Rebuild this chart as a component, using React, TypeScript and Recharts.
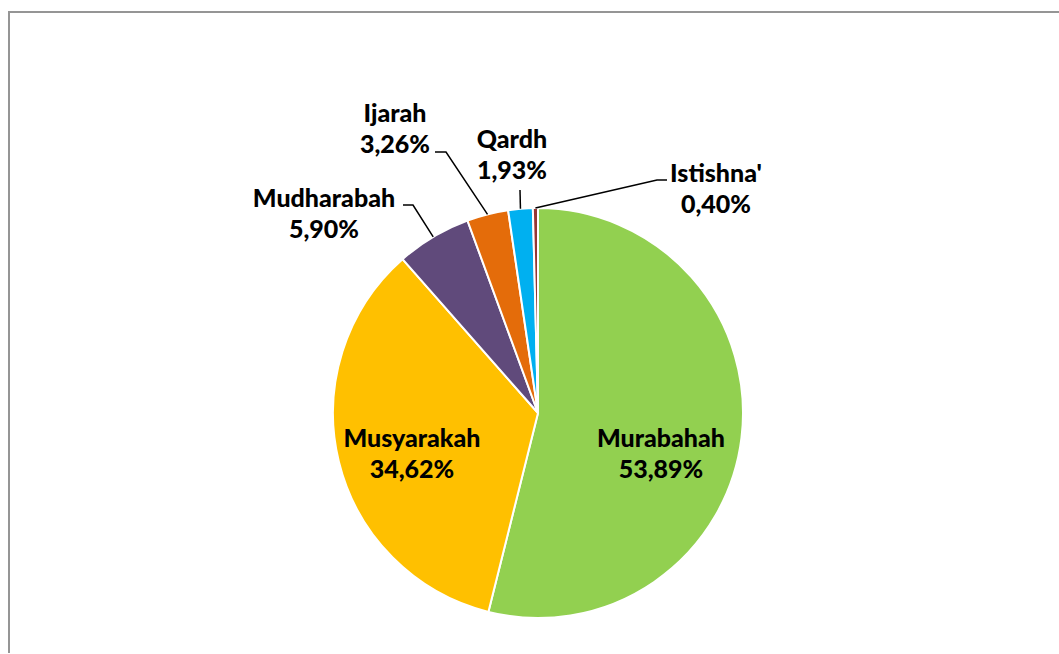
import { PieChart, Pie, Cell } from 'recharts';

const NAMES = ['Murabahah', 'Musyarakah', 'Mudharabah', 'Ijarah', 'Qardh', "Istishna'"];
const SHARES = [53.89, 34.62, 5.9, 3.26, 1.93, 0.4];
const COLORS = ['#92D050', '#FFC000', '#604A7B', '#E46C0A', '#00B0F0', '#953735'];

const data = NAMES.map((name, i) => ({ name, value: SHARES[i] }));

// label placement relative to the pie centre; elbow = where the leader line bends
const LABELS = [
  { tx: 123, ty: 34, inside: true },
  { tx: -126, ty: 34, inside: true },
  { tx: -214, ty: -206, elbow: [-125, -208], end: [-135, -208] },
  { tx: -143, ty: -291, elbow: [-92, -261], end: [-103, -261] },
  { tx: -26, ty: -265, elbow: [-18, -223], end: [-18, -223] },
  { tx: 178, ty: -231, elbow: [119, -233], end: [129, -233] },
];

const RADIAN = Math.PI / 180;
const FONT = 'Lato, "Open Sans", sans-serif';
const LINE_GAP = 31;

const pct = (v: number) => v.toFixed(2).replace('.', ',') + '%';

function renderLabel(props: any) {
  const { cx, cy, midAngle, outerRadius, index, name, value } = props;
  const l = LABELS[index];
  const x = cx + l.tx;
  const y = cy + l.ty;
  const text = (
    <text x={x} y={y} textAnchor="middle" fill="#000" fontFamily={FONT} fontWeight={900} fontSize={25}>
      <tspan x={x} y={y}>{name}</tspan>
      <tspan x={x} y={y + LINE_GAP}>{pct(value)}</tspan>
    </text>
  );
  if (l.inside) return <g key={`lbl-${index}`}>{text}</g>;
  const px = cx + outerRadius * Math.cos(-midAngle * RADIAN);
  const py = cy + outerRadius * Math.sin(-midAngle * RADIAN);
  const ex = cx + l.elbow![0];
  const ey = cy + l.elbow![1];
  const hx = cx + l.end![0];
  const hy = cy + l.end![1];
  return (
    <g key={`lbl-${index}`}>
      <polyline points={`${px},${py} ${ex},${ey} ${hx},${hy}`} fill="none" stroke="#000" strokeWidth={1.5} />
      {text}
    </g>
  );
}

export default function App() {
  return (
    <div
      style={{
        position: 'absolute',
        left: 8,
        top: 11,
        width: 1051,
        height: 642,
        boxSizing: 'border-box',
        borderTop: '2px solid #959595',
        borderLeft: '2px solid #959595',
        background: '#fff',
        overflow: 'hidden',
      }}
    >
      <PieChart width={1049} height={640}>
        <Pie
          data={data}
          dataKey="value"
          nameKey="name"
          cx={523}
          cy={395}
          outerRadius={205}
          startAngle={90}
          endAngle={-270}
          stroke="#fff"
          strokeWidth={2}
          label={renderLabel}
          labelLine={false}
          isAnimationActive={false}
        >
          {data.map((d, i) => (
            <Cell key={d.name} fill={COLORS[i]} />
          ))}
        </Pie>
      </PieChart>
    </div>
  );
}
